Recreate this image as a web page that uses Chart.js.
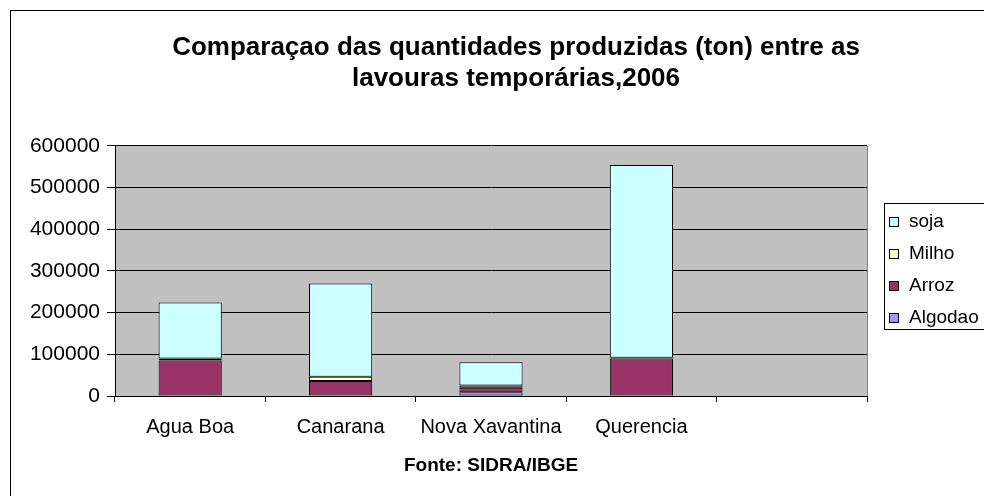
<!DOCTYPE html>
<html>
<head>
<meta charset="utf-8">
<script src="https://cdn.jsdelivr.net/npm/chart.js@4/dist/chart.umd.min.js"></script>
<style>
  html, body { margin:0; padding:0; background:#fff; overflow:hidden; }
  #frame { position:absolute; left:10px; top:10px; width:1010px; height:500px; border:1px solid #000; }
  #c { display:block; }
</style>
</head>
<body>
<div id="frame"><canvas id="c" width="1010" height="500"></canvas></div>
<script>
// ── DATA ───────────────────────────────────────────────
const municipios = ["Agua Boa", "Canarana", "Nova Xavantina", "Querencia", ""];
const algodao    = [0,      0,      9000,  0,      null];
const arroz      = [85000,  36000,  11000, 90000,  null];
const milho      = [5000,   10000,  5000,  2000,   null];
const soja       = [134000, 224000, 56000, 462000, null];
const yTicks     = [0, 100000, 200000, 300000, 400000, 500000, 600000];

// ── LOOK ───────────────────────────────────────────────
const FONT = "'Liberation Sans', Arial, sans-serif";
const PLOT_BG = "#C0C0C0";

// gray plot area + gray right border
const plotBg = {
  id: "plotBg",
  beforeDraw(chart) {
    const { ctx, chartArea: a } = chart;
    ctx.save();
    ctx.fillStyle = PLOT_BG;
    ctx.fillRect(a.left, a.top, a.right - a.left, a.bottom - a.top);
    ctx.restore();
  },
  afterDatasetsDraw(chart) {
    const { ctx, chartArea: a } = chart;
    ctx.save();
    ctx.strokeStyle = "#808080";
    ctx.lineWidth = 1;
    ctx.beginPath();
    ctx.moveTo(Math.round(a.right) + 0.5, a.top);
    ctx.lineTo(Math.round(a.right) + 0.5, a.bottom);
    ctx.stroke();
    ctx.restore();
  }
};

// Excel-like boxed legend on the right (top item = top of stack)
const boxLegend = {
  id: "boxLegend",
  afterDraw(chart) {
    const { ctx } = chart;
    const items = chart.data.datasets.slice().reverse();
    const x0 = 873, y0 = 192, h = 126, step = 32, first = 19;
    ctx.save();
    ctx.strokeStyle = "#000";
    ctx.lineWidth = 1;
    ctx.strokeRect(x0 + 0.5, y0 + 0.5, 200, h);
    ctx.font = "19px " + FONT;
    ctx.textBaseline = "middle";
    items.forEach((ds, i) => {
      const cy = y0 + first + i * step;
      ctx.fillStyle = ds.backgroundColor;
      ctx.fillRect(x0 + 5, cy - 5, 10, 10);
      ctx.strokeRect(x0 + 5.5, cy - 4.5, 9, 9);
      ctx.fillStyle = "#000";
      ctx.fillText(ds.label, x0 + 25, cy);
    });
    ctx.restore();
  }
};

const bar = (label, data, color) => ({
  label, data,
  backgroundColor: color,
  borderColor: "#000",
  borderWidth: 1,
  borderSkipped: false,
  categoryPercentage: 1.0,
  barPercentage: 0.42
});

new Chart(document.getElementById("c"), {
  type: "bar",
  data: {
    labels: municipios,
    datasets: [
      bar("Algodao", algodao, "#9999FF"),
      bar("Arroz",   arroz,   "#993366"),
      bar("Milho",   milho,   "#FFFFCC"),
      bar("soja",    soja,    "#CCFFFF")
    ]
  },
  options: {
    responsive: false,
    animation: false,
    layout: { padding: { left:0, right:0, top:0, bottom:0 } },
    plugins: {
      legend: { display:false },
      tooltip: { enabled:false },
      title: {
        display: true,
        text: ["Comparaçao das quantidades produzidas (ton) entre as", "lavouras temporárias,2006"],
        color: "#000",
        font: { family: FONT, size: 26, weight: "bold", lineHeight: 1.19 },
        padding: { top: 21, bottom: 52 }
      }
    },
    scales: {
      x: {
        stacked: true,
        grid: { offset:true, drawOnChartArea:false, drawTicks:true, tickLength:6, color:"#000" },
        border: { color:"#000", width:1 },
        ticks: { color:"#000", padding:13, maxRotation:0, autoSkip:false,
                 font: { family: FONT, size: 20 } },
        title: { display:true, text:"Fonte: SIDRA/IBGE", color:"#000",
                 font: { family: FONT, size: 19, weight:"bold" },
                 padding: { top:0, bottom:34 } },
        afterFit(s) { s.height = 115; }
      },
      y: {
        stacked: true,
        min: 0, max: 600000,
        afterBuildTicks(s) { s.ticks = yTicks.map(v => ({ value: v })); },
        grid: { color:"#000", lineWidth:1, drawTicks:true, tickLength:8 },
        border: { color:"#000", width:1 },
        ticks: { color:"#000", padding:7, font: { family: FONT, size: 21 },
                 callback: v => String(v) },
        afterFit(s) { s.width = 104; }
      },
      // room on the right for the boxed legend
      spacer: {
        position: "right",
        display: true,
        grid: { display:false, drawTicks:false },
        border: { display:false },
        ticks: { display:false },
        afterFit(s) { s.width = 154; }
      }
    }
  },
  plugins: [plotBg, boxLegend]
});
</script>
</body>
</html>
